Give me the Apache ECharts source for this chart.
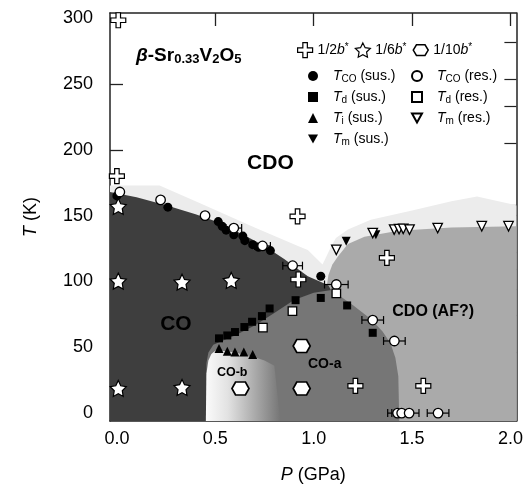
<!DOCTYPE html>
<html>
<head>
<meta charset="utf-8">
<script src="https://cdn.jsdelivr.net/npm/echarts@6/dist/echarts.min.js"></script>
<style>
  html, body { margin: 0; padding: 0; background: #fff; }
  #chart { width: 526px; height: 489px; }
</style>
</head>
<body>
<div id="chart"></div>
<script>
// 相图数据  P (GPa), T (K)
const xTicks = [0, 0.5, 1.0, 1.5, 2.0];
const yTicks = [0, 50, 100, 150, 200, 250, 300];
const rightTicks = [282, 254, 233, 205, 157.6, 150, 122, 109, 94, 74, 46];

// 区域边界
const lightBand = [[-0.035, -6], [-0.035, 173], [0.217, 173], [0.42, 159.6], [0.7, 141], [0.92, 127], [0.97, 124],
  [1.045, 113], [1.09, 127], [1.113, 133], [1.174, 139.5], [1.29, 147], [1.5, 154], [1.7, 161], [1.83, 164.5],
  [1.91, 162], [2.03, 158], [2.03, -6]];
const afRegion = [[1.065, -6], [1.065, 95], [1.075, 105], [1.095, 113], [1.123, 119], [1.174, 128.5],
  [1.258, 134], [1.43, 138.5], [1.7, 141], [2.03, 142], [2.03, -6]];
const coRegion = [[-0.035, -6], [-0.035, 168], [0.1, 164], [0.25, 158], [0.4, 151], [0.515, 145], [0.65, 135],
  [0.75, 127], [0.85, 117], [0.97, 104], [1.04, 99.5], [1.075, 97], [1.09, 93], [1.09, -6]];
const coaRegion = [[0.455, -6], [0.455, 38], [0.465, 46], [0.49, 52], [0.6, 59], [0.7, 66.5], [0.8, 76],
  [0.9, 86], [1.0, 91.5], [1.09, 93.5], [1.2, 82], [1.29, 71.5], [1.35, 62], [1.39, 53], [1.415, 42],
  [1.43, 28], [1.435, -6]];
const cobRegion = [[0.452, -6], [0.455, 30], [0.465, 40], [0.48, 45], [0.505, 48], [0.6, 46], [0.7, 42.5],
  [0.75, 40], [0.8, 36], [0.83, -6]];

// 数据点
const tcoSus = [[0.0, 165], [0.259, 156.5], [0.515, 145.5], [0.535, 142], [0.555, 139], [0.594, 135.5],
  [0.64, 134.5], [0.65, 131], [0.69, 128], [0.72, 126], [0.78, 123.5], [1.036, 104]];
const tcoRes = [[0.015, 168], [0.222, 162], [0.448, 150], [0.594, 140.6], [0.74, 127], [0.893, 112],
  [1.115, 97.7], [1.30, 70.7], [1.41, 54.8], [1.426, 0], [1.447, 0], [1.485, 0], [1.632, 0]];
const tcoResErr = [0, 0, 0, 0.04, 0.04, 0.05, 0.06, 0.055, 0.055, 0.05, 0.05, 0.05, 0.055];
const tdSus = [[0.519, 56.8], [0.561, 59], [0.6, 61.6], [0.648, 65.4], [0.687, 69.4], [0.737, 73.7],
  [0.776, 79.5], [0.908, 85.8], [1.036, 87.5], [1.17, 81.8], [1.30, 61]];
const tdRes = [[0.742, 65], [0.892, 77.5], [1.115, 91]];
const tiSus = [[0.519, 49], [0.561, 47], [0.6, 46.5], [0.645, 46.5], [0.69, 44.5]];
const tmSus = [[1.165, 130.5], [1.316, 135.6]];
const tmRes = [[1.115, 124], [1.30, 136.8], [1.409, 139.4], [1.434, 139.8], [1.455, 140], [1.487, 139.4],
  [1.63, 140.6], [1.854, 142], [1.99, 142]];
const halfB = [[0.007, 298.5], [0.0, 180], [0.918, 149.5], [0.922, 101.5], [1.372, 118], [1.212, 20.7], [1.557, 20.7]];
const sixthB = [[0.007, 157], [0.007, 100.3], [0.331, 99.5], [0.581, 100.8], [0.007, 18.7], [0.331, 19.5]];
const tenthB = [[0.628, 18.7], [0.939, 51], [0.939, 18.7]];

// 区域文字
const regionLabels = [['CDO', 0.78, 190], ['CO', 0.30, 67.4], ['CDO (AF?)', 1.607, 77], ['CO-a', 1.056, 37], ['CO-b', 0.586, 30.8]];
const labelFonts = { 'CDO': 21, 'CO': 21, 'CDO (AF?)': 16, 'CO-a': 14, 'CO-b': 12.5 };

const FONT = 'Liberation Sans, Arial, Helvetica, sans-serif';
const crossPath = 'path://M3.5,0H6.5V3.5H10V6.5H6.5V10H3.5V6.5H0V3.5H3.5Z';
const starPath = 'path://M10,0L12.94,5.95L19.51,6.91L14.76,11.55L15.88,18.09L10,15L4.12,18.09L5.24,11.55L0.49,6.91L7.06,5.95Z';
const hexPath = 'path://M0,5L3,0L11,0L14,5L11,10L3,10Z';
const downTri = 'path://M0,0L10,0L5,9Z';
const openStyle = { color: '#fff', borderColor: '#000', borderWidth: 1.2, opacity: 1 };

function regionSeries(points, fill) {
  return {
    type: 'custom', silent: true, z: 1, data: [[0, 0]],
    renderItem: function (params, api) {
      const pts = points.map(function (p) { return api.coord(p); });
      let f = fill;
      if (fill === 'gradient') {
        const a = api.coord([0.45, 0]);
        const b = api.coord([0.83, 0]);
        f = new echarts.graphic.LinearGradient(a[0], 0, b[0], 0, [
          { offset: 0, color: '#fbfbfb' },
          { offset: 0.3, color: '#e2e2e2' },
          { offset: 0.65, color: '#acacac' },
          { offset: 1, color: '#767676' },
        ], true);
      }
      return { type: 'polygon', shape: { points: pts }, style: { fill: f } };
    },
  };
}

function scatter(name, data, symbol, size, filled, extra) {
  return Object.assign({
    name: name, type: 'scatter', data: data, symbol: symbol, symbolSize: size, z: 5,
    itemStyle: filled ? { color: '#000', opacity: 1 } : { color: '#fff', borderColor: '#000', borderWidth: 1.3, opacity: 1 },
  }, extra || {});
}

const richBase = {
  n: { fontSize: 14, fontFamily: FONT, lineHeight: 16, color: '#000' },
  i: { fontSize: 14, fontFamily: FONT, fontStyle: 'italic', lineHeight: 16, color: '#000' },
  ip: { fontSize: 14, fontFamily: FONT, fontStyle: 'italic', lineHeight: 16, color: '#000', padding: [0, 0, 0, 10] },
  sub: { fontSize: 10, fontFamily: FONT, lineHeight: 10, padding: [9, 0, 0, 0], verticalAlign: 'bottom', color: '#000' },
  sup: { fontSize: 10, fontFamily: FONT, lineHeight: 10, padding: [0, 0, 6, 0], verticalAlign: 'top', color: '#000' },
};
const legendNames = {
  half: '{n|1/2}{i|b}{sup|*}',
  sixth: '{n|1/6}{i|b}{sup|*}',
  tenth: '{n|1/10}{i|b}{sup|*}',
  tcoSus: '{ip|T}{sub|CO}{n| (sus.)}',
  tdSus: '{ip|T}{sub|d}{n| (sus.)}',
  tiSus: '{ip|T}{sub|i}{n| (sus.)}',
  tmSus: '{ip|T}{sub|m}{n| (sus.)}',
  tcoRes: '{ip|T}{sub|CO}{n| (res.)}',
  tdRes: '{ip|T}{sub|d}{n| (res.)}',
  tmRes: '{ip|T}{sub|m}{n| (res.)}',
};
function legendFmt(name) { return legendNames[name]; }

const chart = echarts.init(document.getElementById('chart'));
const option = {
  backgroundColor: '#fff',
  animation: false,
  title: {
    left: 136, top: 46, padding: 0,
    text: '{b|β}{n|-Sr}{s|0.33}{n|V}{s|2}{n|O}{s|5}',
    textStyle: {
      rich: {
        b: { fontSize: 19, fontWeight: 'bold', fontStyle: 'italic', fontFamily: FONT, lineHeight: 20, color: '#000' },
        n: { fontSize: 19, fontWeight: 'bold', fontFamily: FONT, lineHeight: 20, color: '#000' },
        s: { fontSize: 13, fontWeight: 'bold', fontFamily: FONT, lineHeight: 13, padding: [10, 0, 0, 0], verticalAlign: 'bottom', color: '#000' },
      },
    },
  },
  legend: [
    {
      data: [
        { name: 'half', itemStyle: openStyle },
        { name: 'sixth', itemStyle: openStyle },
        { name: 'tenth', itemStyle: Object.assign({}, openStyle, { borderWidth: 1.5 }) },
      ],
      left: 297, top: 42, padding: 0, itemWidth: 15, itemHeight: 15, itemGap: 6,
      formatter: legendFmt, textStyle: { rich: richBase }, selectedMode: false,
    },
    {
      data: ['tcoSus', 'tdSus', 'tiSus', { name: 'tmSus', icon: downTri }], orient: 'vertical', left: 308, top: 65, padding: 0,
      itemWidth: 10, itemHeight: 10, itemGap: 2, formatter: legendFmt, textStyle: { rich: richBase }, selectedMode: false,
    },
    {
      data: ['tcoRes', 'tdRes', { name: 'tmRes', icon: downTri }], orient: 'vertical', left: 411, top: 65, padding: 0,
      itemWidth: 10, itemHeight: 10, itemGap: 2, formatter: legendFmt, textStyle: { rich: richBase }, selectedMode: false,
    },
  ],
  grid: { left: 110, right: 6, top: 13, bottom: 67 },
  xAxis: [
    {
      type: 'value', min: -0.035, max: 2.03, position: 'bottom',
      name: '{i|P} (GPa)', nameLocation: 'middle', nameGap: 45,
      nameTextStyle: { fontSize: 18, fontFamily: FONT, color: '#000', rich: { i: { fontSize: 18, fontStyle: 'italic', fontFamily: FONT, color: '#000' } } },
      axisLine: { onZero: false, lineStyle: { color: '#222', width: 1.5 } },
      axisTick: { inside: true, length: 13, customValues: xTicks, lineStyle: { color: '#222', width: 1.3 } },
      axisLabel: { customValues: xTicks, margin: 9, fontSize: 18, fontFamily: FONT, color: '#000', formatter: function (v) { return v.toFixed(1); } },
      splitLine: { show: false },
    },
    {
      type: 'value', min: -0.035, max: 2.03, position: 'top',
      axisLine: { onZero: false, lineStyle: { color: '#222', width: 1.5 } },
      axisTick: { inside: true, length: 13, customValues: [0.5, 1.0, 1.5, 2.0], lineStyle: { color: '#222', width: 1.3 } },
      axisLabel: { show: false },
      splitLine: { show: false },
    },
  ],
  yAxis: [
    {
      type: 'value', min: -6, max: 304, position: 'left',
      name: '{i|T} (K)', nameLocation: 'middle', nameGap: 70,
      nameTextStyle: { fontSize: 18, fontFamily: FONT, color: '#000', rich: { i: { fontSize: 18, fontStyle: 'italic', fontFamily: FONT, color: '#000' } } },
      axisLine: { onZero: false, lineStyle: { color: '#222', width: 1.5 } },
      axisTick: { inside: true, length: 13, customValues: yTicks, lineStyle: { color: '#222', width: 1.3 } },
      axisLabel: { customValues: yTicks, margin: 17, fontSize: 18, fontFamily: FONT, color: '#000' },
      splitLine: { show: false },
    },
    {
      type: 'value', min: -6, max: 304, position: 'right',
      axisLine: { onZero: false, lineStyle: { color: '#222', width: 1.5 } },
      axisTick: { inside: true, length: 12, customValues: rightTicks, lineStyle: { color: '#222', width: 1.2 } },
      axisLabel: { show: false },
      splitLine: { show: false },
    },
  ],
  series: [
    regionSeries(lightBand, '#ececec'),
    regionSeries(afRegion, '#aaaaaa'),
    regionSeries(coRegion, '#3e3e3e'),
    regionSeries(coaRegion, '#767676'),
    regionSeries(cobRegion, 'gradient'),
    {
      type: 'custom', silent: true, z: 3,
      data: regionLabels.map(function (d) { return [d[1], d[2]]; }),
      renderItem: function (params, api) {
        const c = api.coord([api.value(0), api.value(1)]);
        const txt = regionLabels[params.dataIndex][0];
        return {
          type: 'text', x: c[0], y: c[1],
          style: { text: txt, font: 'bold ' + labelFonts[txt] + 'px ' + FONT, fill: '#000', align: 'center', verticalAlign: 'middle' },
        };
      },
    },
    {
      type: 'custom', silent: true, z: 4,
      data: tcoRes.map(function (d, k) { return [d[0], d[1], tcoResErr[k]]; }),
      renderItem: function (params, api) {
        const p = api.value(0), t = api.value(1), e = api.value(2);
        if (!e) return null;
        const a = api.coord([p - e, t]);
        const b = api.coord([p + e, t]);
        const st = { stroke: '#000', lineWidth: 1.2 };
        return {
          type: 'group',
          children: [
            { type: 'line', shape: { x1: a[0], y1: a[1], x2: b[0], y2: b[1] }, style: st },
            { type: 'line', shape: { x1: a[0], y1: a[1] - 4, x2: a[0], y2: a[1] + 4 }, style: st },
            { type: 'line', shape: { x1: b[0], y1: b[1] - 4, x2: b[0], y2: b[1] + 4 }, style: st },
          ],
        };
      },
    },
    scatter('tcoSus', tcoSus, 'circle', 9, true),
    scatter('tdSus', tdSus, 'rect', 8, true),
    scatter('tiSus', tiSus, 'triangle', 9, true),
    scatter('tmSus', tmSus, 'triangle', 9, true, { symbolRotate: 180 }),
    scatter('tcoRes', tcoRes, 'circle', 9.5, false),
    scatter('tdRes', tdRes, 'rect', 8.5, false),
    scatter('tmRes', tmRes, 'triangle', 9.5, false, { symbolRotate: 180 }),
    scatter('half', halfB, crossPath, 15, false, { itemStyle: openStyle }),
    scatter('sixth', sixthB, starPath, 16, false, { itemStyle: openStyle }),
    scatter('tenth', tenthB, hexPath, [17, 13], false, { itemStyle: Object.assign({}, openStyle, { borderWidth: 1.6 }) }),
  ],
};
chart.setOption(option);
</script>
</body>
</html>
